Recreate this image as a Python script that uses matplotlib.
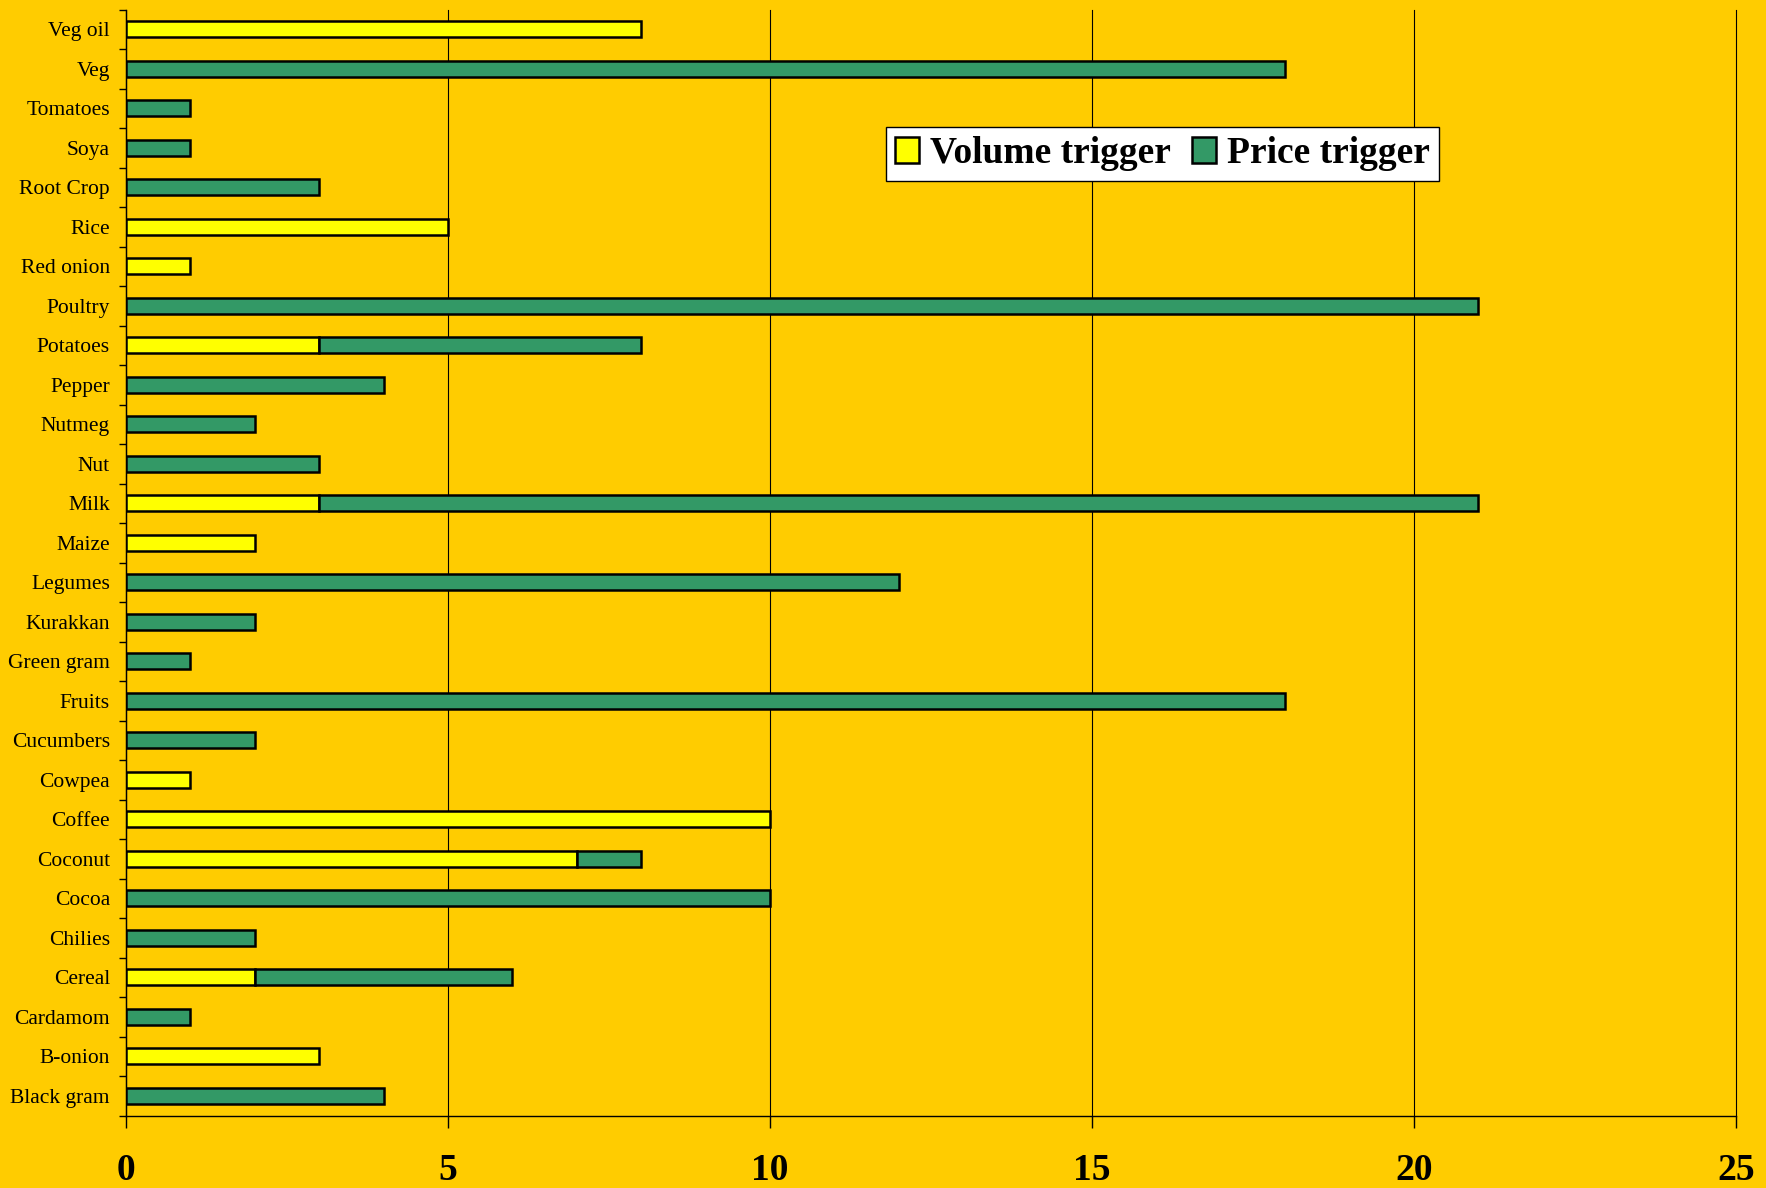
import numpy as np
import matplotlib
matplotlib.use('Agg')
import matplotlib.pyplot as plt
from matplotlib.ticker import FixedLocator

# categories listed bottom to top
crops = ['Black gram', 'B-onion', 'Cardamom', 'Cereal', 'Chilies', 'Cocoa',
         'Coconut', 'Coffee', 'Cowpea', 'Cucumbers', 'Fruits', 'Green gram',
         'Kurakkan', 'Legumes', 'Maize', 'Milk', 'Nut', 'Nutmeg', 'Pepper',
         'Potatoes', 'Poultry', 'Red onion', 'Rice', 'Root Crop', 'Soya',
         'Tomatoes', 'Veg', 'Veg oil']
volume = np.array([0, 3, 0, 2, 0, 0, 7, 10, 1, 0, 0, 0, 0, 0, 2, 3, 0, 0, 0,
                   3, 0, 1, 5, 0, 0, 0, 0, 8])
price = np.array([4, 0, 1, 4, 2, 10, 1, 0, 0, 2, 18, 1, 2, 12, 0, 18, 3, 2, 4,
                  5, 21, 0, 0, 3, 1, 1, 18, 0])

bg = '#FFCC00'
plt.rcParams['font.family'] = ['Liberation Serif', 'DejaVu Serif']

fig = plt.figure(figsize=(17.66, 11.88), dpi=100, facecolor=bg)
ax = fig.add_axes([0.0713, 0.0609, 0.9117, 0.931])
ax.set_facecolor(bg)

y = np.arange(len(crops))
h = 0.4
lw = 1.8
mv = volume > 0
mp = price > 0
ax.barh(y[mv], volume[mv], height=h, color='#FFFF00', edgecolor='black',
        linewidth=lw, label='Volume trigger', zorder=3)
ax.barh(y[mp], price[mp], left=volume[mp], height=h, color='#339966',
        edgecolor='black', linewidth=lw, label='Price trigger', zorder=3)

ax.set_xlim(0, 25)
ax.set_ylim(-0.5, len(crops) - 0.5)
ax.set_xticks([0, 5, 10, 15, 20, 25])
ax.set_yticks(y)
ax.set_yticklabels(crops, fontsize=15.5)
ax.yaxis.set_minor_locator(FixedLocator(np.arange(-0.5, len(crops), 1)))
ax.tick_params(axis='y', which='major', length=0, pad=11.5)
ax.tick_params(axis='y', which='minor', length=5, width=1, direction='out')
ax.tick_params(axis='x', which='major', length=8.6, width=1, pad=18.5,
               labelsize=27)
for t in ax.get_xticklabels():
    t.set_fontweight('bold')

ax.grid(axis='x', color='black', linewidth=0.8, zorder=0)
for gl in ax.get_xgridlines():
    gl.set_clip_on(False)
ax.set_axisbelow(True)
for s in ['top', 'right']:
    ax.spines[s].set_visible(False)
ax.spines['left'].set_linewidth(1)
ax.spines['bottom'].set_linewidth(1)

leg = ax.legend(loc='upper left', bbox_to_anchor=(0.472, 0.894), ncol=2,
                fancybox=False, framealpha=1, edgecolor='black',
                prop={'size': 27, 'weight': 'bold'}, borderpad=0.25,
                handlelength=0.64, handleheight=0.72, handletextpad=0.3,
                columnspacing=0.55, borderaxespad=0)
leg.get_frame().set_linewidth(1)

fig.savefig('out.png', dpi=100, facecolor=bg)
